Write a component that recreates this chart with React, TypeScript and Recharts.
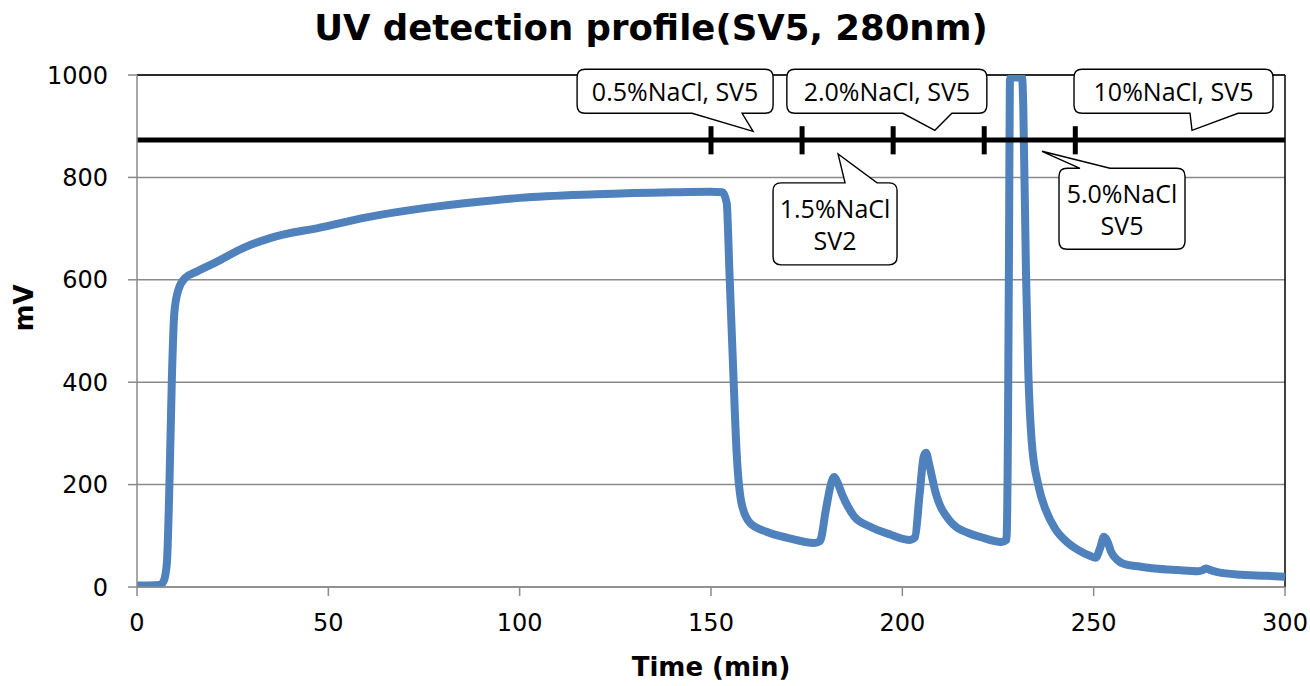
import { LineChart, Line, XAxis, YAxis, CartesianGrid, ReferenceLine, ReferenceDot } from 'recharts'

// chromatogram (min, mV)
const TIME = [
  0, 3, 6, 7, 7.8, 8.5, 9.1, 9.75, 10.8, 12.5, 15.6, 20.8, 27.7, 35, 47.8, 60, 75, 90, 100, 120, 140, 150, 153,
  154.1, 154.8, 155.8, 156.7, 158, 160.2, 164.5, 170, 177, 178.5, 180, 181.5, 182.2, 183, 184.3, 187.4, 191.5, 197,
  202, 203.3, 204.5, 205.6, 206.2, 207, 208.6, 212.2, 217.4, 220.3, 225.9, 227.2, 227.6, 227.9, 228.1, 228.4, 231.3,
  231.6, 232.3, 232.9, 233.8, 235.5, 237.5, 240, 243, 246, 249, 250.5, 251.6, 252.7, 253.6, 254.6, 256, 258, 262, 266,
  272, 277.3, 278.5, 279.3, 280.5, 282.4, 288.6, 295, 300,
]
const MV = [
  3, 3, 4, 12, 46, 209, 404, 535, 580, 603, 616, 635, 662, 682, 702, 722, 740, 753, 760, 767, 771, 772, 771,
  750, 619, 424, 262, 163, 125, 108, 96, 86, 90, 150, 205, 215, 205, 180, 138, 118, 102,
  92, 97, 180, 255, 262, 240, 187, 131, 105, 98, 88, 92, 300, 700, 990, 995, 995,
  940, 619, 424, 285, 200, 150, 113, 88, 72, 61, 57, 74, 98, 89, 68, 54, 45, 40, 36,
  33, 31, 33, 36, 33, 29, 24, 22, 20,
]

const X_TICKS = [0, 50, 100, 150, 200, 250, 300]
const Y_TICKS = [0, 200, 400, 600, 800, 1000]

// salt gradient step bar
const STEP_LEVEL = 873
const STEP_TIMES = [150, 173.8, 197.6, 221.4, 245.2]

// callouts: text, and where the pointer tip sits (min, mV)
const CALLOUT_TEXT = [['0.5%NaCl, SV5'], ['2.0%NaCl, SV5'], ['10%NaCl, SV5'], ['1.5%NaCl', 'SV2'], ['5.0%NaCl', 'SV5']]
const CALLOUT_TIME = [161, 208.5, 275.7, 183.2, 236.5]
const CALLOUT_MV = [890, 892, 892, 846, 851]

// box placement in px relative to the tip
const BOXES = [
  { l: -176, r: 20, t: -62, b: -18, tail: [-61, -11], side: 'bottom' },
  { l: -148, r: 52, t: -61, b: -17, tail: [-32, 17], side: 'bottom' },
  { l: -118, r: 81, t: -61, b: -17, tail: [-2, 46], side: 'bottom' },
  { l: -65, r: 59, t: 29, b: 111, tail: [7, 39], side: 'top' },
  { l: 17, r: 143, t: 17, b: 98, tail: [38, 68], side: 'top' },
]

const data = TIME.map((t, i) => ({ t, mv: MV[i] }))

const AXIS_GRAY = '#8a8a8a'
const TICK_FONT = { fontFamily: 'DejaVu Sans, Verdana, sans-serif', fontSize: 24, fill: '#000' }

function Bubble(props: any) {
  const { cx, cy, idx } = props
  if (cx == null || cy == null) return null
  const bx = BOXES[idx]
  const L = cx + bx.l, R = cx + bx.r, T = cy + bx.t, B = cy + bx.b
  const r = 8
  const a0 = cx + bx.tail[0], a1 = cx + bx.tail[1]
  let d = ''
  if (bx.side === 'top') {
    d = `M${L + r},${T} L${a0},${T} L${cx},${cy} L${a1},${T} L${R - r},${T} Q${R},${T} ${R},${T + r} L${R},${B - r} Q${R},${B} ${R - r},${B} L${L + r},${B} Q${L},${B} ${L},${B - r} L${L},${T + r} Q${L},${T} ${L + r},${T} Z`
  } else {
    d = `M${L + r},${T} L${R - r},${T} Q${R},${T} ${R},${T + r} L${R},${B - r} Q${R},${B} ${R - r},${B} L${a1},${B} L${cx},${cy} L${a0},${B} L${L + r},${B} Q${L},${B} ${L},${B - r} L${L},${T + r} Q${L},${T} ${L + r},${T} Z`
  }
  const lines = CALLOUT_TEXT[idx]
  const midX = (L + R) / 2
  const midY = (T + B) / 2
  const lh = 32
  return (
    <g>
      <path d={d} fill="#fff" stroke="#000" strokeWidth={1.4} />
      {lines.map((s, k) => (
        <text key={k} x={midX} y={midY + (k - (lines.length - 1) / 2) * lh} textAnchor="middle" dominantBaseline="central"
          fontFamily="Open Sans, sans-serif" fontSize={25} fill="#000">{s}</text>
      ))}
    </g>
  )
}

export default function App() {
  return (
    <div style={{ position: 'absolute', left: 0, top: 0, width: 1310, height: 686, background: '#fff' }}>
      <LineChart width={1310} height={686} data={data} margin={{ top: 75, right: 25, left: 0, bottom: 0 }}>
        <CartesianGrid vertical={false} stroke={AXIS_GRAY} strokeWidth={1.5} />
        <XAxis dataKey="t" type="number" domain={[0, 300]} ticks={X_TICKS} height={99}
          stroke={AXIS_GRAY} strokeWidth={1.5} tickSize={9} tickMargin={18} tick={TICK_FONT} />
        <YAxis type="number" domain={[0, 1000]} ticks={Y_TICKS} width={137} allowDataOverflow
          stroke={AXIS_GRAY} strokeWidth={1.5} tickSize={9} tickMargin={20} tick={TICK_FONT} />
        <ReferenceLine y={1000} stroke="#000" strokeWidth={1.5} />
        <ReferenceLine x={300} stroke="#000" strokeWidth={1.5} />
        <Line dataKey="mv" type="monotone" stroke="#4F81BD" strokeWidth={8} dot={false} isAnimationActive={false} />
        <ReferenceLine y={STEP_LEVEL} stroke="#000" strokeWidth={5} />
        {STEP_TIMES.map((s) => (
          <ReferenceLine key={s} segment={[{ x: s, y: 845 }, { x: s, y: 900 }]} stroke="#000" strokeWidth={5} />
        ))}
        {CALLOUT_TIME.map((t, i) => (
          <ReferenceDot key={i} x={t} y={CALLOUT_MV[i]} r={1} shape={(p: any) => <Bubble {...p} idx={i} />} />
        ))}
      </LineChart>
      <svg width={1310} height={686} style={{ position: 'absolute', left: 0, top: 0, pointerEvents: 'none' }}>
        <text x={651} y={40} textAnchor="middle" fontFamily="DejaVu Sans, Verdana, sans-serif" fontWeight="bold" fontSize={35.5}>
          UV detection profile(SV5, 280nm)
        </text>
        <text x={711} y={676} textAnchor="middle" fontFamily="DejaVu Sans, Verdana, sans-serif" fontWeight="bold" fontSize={26}>
          Time (min)
        </text>
        <text x={33} y={308} transform="rotate(-90, 33, 308)" textAnchor="middle" fontFamily="DejaVu Sans, Verdana, sans-serif" fontWeight="bold" fontSize={26}>
          mV
        </text>
      </svg>
    </div>
  )
}
